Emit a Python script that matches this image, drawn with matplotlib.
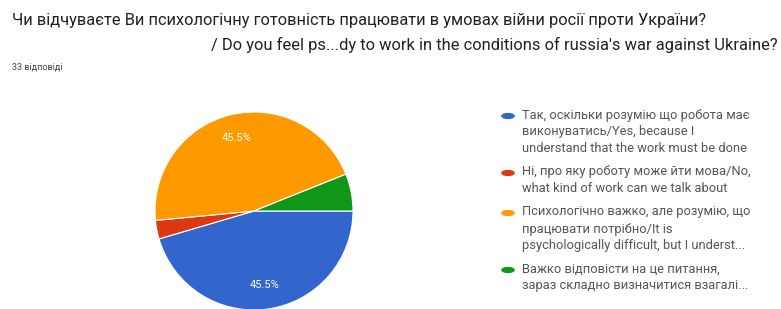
import matplotlib
matplotlib.use("Agg")
import matplotlib.pyplot as plt
import numpy as np

# answers (33 responses in total)
labels = ['Так, оскільки розумію що робота має\nвиконуватись/Yes, because I\nunderstand that the work must be done',
          'Ні, про яку роботу може йти мова/No,\nwhat kind of work can we talk about',
          'Психологічно важко, але розумію, що\nпрацювати потрібно/It is\npsychologically difficult, but I underst...',
          'Важко відповісти на це питання,\nзараз складно визначитися взагалі...']
counts = [15, 1, 15, 2]
colors = ['#3366CC', '#DC3912', '#FF9900', '#109618']

title1 = 'Чи відчуваєте Ви психологічну готовність працювати в умовах війни росії проти України?'
title2 = '/ Do you feel ps...dy to work in the conditions of russia\'s war against Ukraine?'
subtitle = '33 відповіді'

plt.rcParams['font.family'] = ['Roboto', 'DejaVu Sans']

W, H = 781, 309
fig = plt.figure(figsize=(W / 100, H / 100), dpi=100)

# pie axes: centre (254, 211) px, radius 99 px
ax = fig.add_axes([155 / W, (H - 310) / H, 198 / W, 198 / H])
total = sum(counts)
wedges, texts = ax.pie(counts, colors=colors, startangle=0, counterclock=False,
                       radius=1, wedgeprops=dict(edgecolor='white', linewidth=0.8))
for w, c in zip(wedges, counts):
    pct = c / total * 100
    if pct > 10:
        ang = np.deg2rad((w.theta1 + w.theta2) / 2)
        ax.text(0.76 * np.cos(ang), 0.76 * np.sin(ang), f'{pct:.1f}%',
                color='white', fontsize=8, ha='center', va='center')
ax.set_xlim(-1, 1)
ax.set_ylim(-1, 1)
ax.set_aspect('equal')
ax.axis('off')

fig.text(12 / W, 1 - 21 / H, title1, fontsize=11.8, color='#212121', va='center', ha='left')
fig.text(778 / W, 1 - 45 / H, title2, fontsize=11.9, color='#212121', va='center', ha='right')
fig.text(12 / W, 1 - 67 / H, subtitle, fontsize=6.5, color='#444444', va='center', ha='left')

# legend drawn by hand
ys = [116, 173, 213, 270]
for y, lab, col in zip(ys, labels, colors):
    fig.patches.append(plt.Circle((508 / W, 1 - y / H), 0.0078, color=col,
                                  transform=fig.transFigure, figure=fig))
    fig.text(522 / W, 1 - (y - 7.5) / H, lab, fontsize=9.3, color='#555555',
             va='top', ha='left', linespacing=1.4)

plt.savefig('out.png', dpi=100, facecolor='white')
